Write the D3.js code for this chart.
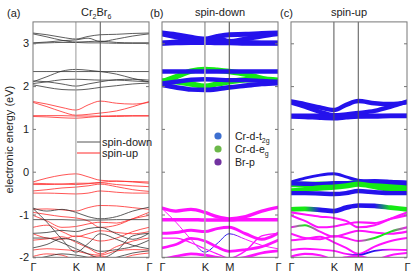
<!DOCTYPE html>
<html>
<head>
<meta charset="utf-8">
<script src="https://cdn.jsdelivr.net/npm/d3@7"></script>
<style>
body { margin: 0; background: #fff; }
svg { display: block; }
text { font-family: "Liberation Sans", Arial, sans-serif; fill: #222; }
</style>
</head>
<body>
<div id="chart"></div>
<script>
// k-path sample points (fraction of Γ-K-M-Γ path) and labels
const kPath = [0, 0.12, 0.25, 0.37, 0.475, 0.58, 0.72, 0.86, 1];
const kLabels = ["Γ", "K", "M", "Γ"];
const kLabelPos = [0, 0.37, 0.58, 1];
const eTicks = [-2, -1, 0, 1, 2, 3];

// spin-down bands (eV) at kPath points
const spinDown = [
  [3.24, 3.20, 3.14, 3.10, 3.16, 3.20, 3.21, 3.23, 3.24],
  [3.22, 3.15, 3.07, 3.03, 3.04, 3.05, 3.02, 3.01, 3.01],
  [3.01, 3.03, 3.06, 3.08, 3.12, 3.04, 3.10, 3.17, 3.22],
  [3.00, 3.01, 3.02, 3.02, 3.01, 3.01, 3.00, 3.00, 3.00],
  [2.10, 2.22, 2.35, 2.39, 2.37, 2.34, 2.28, 2.18, 2.10],
  [2.12, 2.10, 2.05, 2.00, 2.05, 2.10, 2.15, 2.16, 2.14],
  [2.34, 2.34, 2.34, 2.34, 2.34, 2.34, 2.34, 2.34, 2.34],
  [2.06, 2.10, 2.15, 2.16, 2.15, 2.14, 2.14, 2.12, 2.10],
  [2.03, 1.97, 1.92, 1.91, 1.93, 1.97, 2.01, 2.05, 2.07],
  [-0.85, -0.92, -0.88, -0.95, -1.05, -1.10, -1.05, -0.92, -0.83],
  [-0.86, -1.18, -1.58, -1.88, -1.68, -1.45, -1.58, -1.72, -1.80],
  [-1.12, -1.12, -1.12, -1.13, -1.13, -1.13, -1.12, -1.12, -1.12],
  [-1.44, -1.42, -1.37, -1.40, -1.33, -1.30, -1.45, -1.58, -1.44],
  [-1.78, -1.70, -1.56, -1.62, -1.76, -1.86, -1.82, -1.75, -1.60],
  [-1.55, -1.55, -1.66, -1.80, -1.92, -2.02, -1.85, -1.50, -1.44],
  [-2.05, -1.98, -1.92, -1.95, -2.00, -2.05, -2.00, -1.90, -1.85]
];

// spin-up bands (eV) at kPath points
const spinUp = [
  [1.64, 1.58, 1.50, 1.44, 1.56, 1.65, 1.60, 1.58, 1.62],
  [1.62, 1.52, 1.40, 1.32, 1.34, 1.37, 1.42, 1.52, 1.64],
  [1.31, 1.31, 1.31, 1.30, 1.30, 1.30, 1.31, 1.31, 1.31],
  [1.29, 1.28, 1.26, 1.25, 1.27, 1.29, 1.29, 1.30, 1.30],
  [-0.24, -0.15, -0.08, -0.05, -0.12, -0.20, -0.22, -0.23, -0.24],
  [-0.30, -0.30, -0.29, -0.30, -0.28, -0.26, -0.30, -0.33, -0.35],
  [-0.27, -0.28, -0.29, -0.27, -0.27, -0.25, -0.22, -0.24, -0.27],
  [-0.45, -0.42, -0.38, -0.36, -0.33, -0.29, -0.35, -0.42, -0.46],
  [-0.50, -0.50, -0.51, -0.52, -0.50, -0.45, -0.48, -0.50, -0.50],
  [-0.88, -0.87, -0.89, -0.92, -0.84, -0.79, -0.80, -0.84, -0.88],
  [-0.95, -1.00, -1.05, -1.08, -1.15, -1.30, -1.25, -1.10, -0.95],
  [-1.02, -1.15, -1.30, -1.28, -1.22, -1.18, -1.20, -1.10, -1.02],
  [-1.30, -1.25, -1.40, -1.52, -1.45, -1.38, -1.42, -1.45, -1.40],
  [-1.45, -1.55, -1.58, -1.50, -1.55, -1.62, -1.55, -1.40, -1.30],
  [-1.60, -1.57, -1.52, -1.65, -1.78, -1.92, -1.75, -1.62, -1.55],
  [-1.83, -1.80, -1.82, -1.85, -1.92, -1.95, -1.85, -1.82, -1.83],
  [-1.98, -1.92, -1.95, -2.05, -2.00, -1.97, -2.05, -1.95, -1.90]
];

// dominant orbital character at each k point: t = Cr-d-t2g, e = Cr-d-eg, p = Br-p
const downChar = [
  "ttttttttt", "ttttttttt", "ttttttttt", "ttttttttt",
  "eeeeeeeee", "eeeeeeeee", "ttttttttt", "ttttttttt", "ttttttttt",
  "ppppppppp", "ppptttppp", "ppppppppp", "ppppppppp", "ppppppppp", "ppppppppp", "ppppppppp"
];
const upChar = [
  "ttttttttt", "ttttttttt", "ttttttttt", "ttttttttt",
  "ttttttttt", "eeeeeeeee", "ttttttttt", "eeeeeeeee", "ttttttttt",
  "eetttttee", "ppppppppp", "ppppppppp", "peppppppp", "ppppppeep", "ppppppppp", "pppppttpp", "ppppppppp"
];

// projection weight (0..1) of each band
const downWeight = [0.9, 0.9, 0.9, 0.9, 1.0, 1.0, 0.8, 0.8, 0.85, 0.55, 0.08, 0.6, 0.5, 0.45, 0.15, 0.45];
const upWeight = [0.8, 0.8, 0.8, 0.8, 0.5, 1.0, 0.8, 1.0, 0.8, 0.85, 0.3, 0.3, 0.3, 0.3, 0.3, 0.25, 0.3];

const legendItems = [
  {c: "t", main: "Cr-d-t", sub: "2g", dot: "#3d6fd0"},
  {c: "e", main: "Cr-d-e", sub: "g", dot: "#6cb84a"},
  {c: "p", main: "Br-p", sub: "", dot: "#7232a0"}
];

const W = 416, H = 277;
const charColor = {t: "#2412ec", e: "#14ea14", p: "#ff12ff"};

const svg = d3.select("#chart").append("svg").attr("width", W).attr("height", H);
const defs = svg.append("defs");

const y = d3.scaleLinear().domain([-2, 3.5]).range([257.3, 21.9]);
const wScale = d3.scaleLinear().domain([0, 1]).range([0.6, 5.4]);

const panels = [
  {id: "a", left: 33, right: 149, kColor: "#999", mColor: "#555", labels: true},
  {id: "b", left: 162, right: 278, kColor: "#aaa", mColor: "#444", labels: false},
  {id: "c", left: 291, right: 407, kColor: "#555", mColor: "#555", labels: false}
];

function setupPanel(p) {
  const x = d3.scaleLinear().domain([0, 1]).range([p.left, p.right]);
  defs.append("clipPath").attr("id", "clip-" + p.id)
    .append("rect")
    .attr("x", p.left).attr("y", y(3.5))
    .attr("width", p.right - p.left).attr("height", y(-2) - y(3.5));
  const g = svg.append("g");
  const plot = g.append("g").attr("clip-path", "url(#clip-" + p.id + ")");
  return {x, g, plot};
}

function finishPanel(p, x, g) {
  // K and M lines
  g.append("line").attr("x1", x(kLabelPos[1])).attr("x2", x(kLabelPos[1]))
    .attr("y1", y(3.5)).attr("y2", y(-2))
    .attr("stroke", p.kColor).attr("stroke-width", p.id == "b" ? 1.6 : 1);
  g.append("line").attr("x1", x(kLabelPos[2])).attr("x2", x(kLabelPos[2]))
    .attr("y1", y(3.5)).attr("y2", y(-2))
    .attr("stroke", p.mColor).attr("stroke-width", 1);
  // frame
  g.append("rect").attr("x", p.left).attr("y", y(3.5))
    .attr("width", p.right - p.left).attr("height", y(-2) - y(3.5))
    .attr("fill", "none").attr("stroke", "#777").attr("stroke-width", 1);

  const left = d3.axisLeft(y).tickValues(eTicks).tickSize(-3).tickPadding(4)
    .tickFormat(d => p.labels ? String(d) : "");
  const la = g.append("g").attr("transform", "translate(" + p.left + ",0)").call(left);
  const ra = g.append("g").attr("transform", "translate(" + p.right + ",0)")
    .call(d3.axisRight(y).tickValues(eTicks).tickSize(-3).tickFormat(""));
  const bottom = d3.axisBottom(x).tickValues(kLabelPos)
    .tickFormat((d, i) => kLabels[i]).tickSize(0).tickPadding(6);
  const ba = g.append("g").attr("transform", "translate(0," + y(-2) + ")").call(bottom);
  [la, ra, ba].forEach(a => {
    a.select(".domain").remove();
    a.selectAll("line").attr("stroke", "#777");
    a.selectAll("text").attr("font-size", 11).attr("fill", "#222")
      .style("font-family", "'Liberation Sans', Arial, sans-serif");
  });
}

function bandLine(x) {
  return d3.line().x((d, i) => x(kPath[i])).y(d => y(d)).curve(d3.curveMonotoneX);
}

// panel (a): plain bands
(function() {
  const p = panels[0];
  const {x, g, plot} = setupPanel(p);
  const line = bandLine(x);
  plot.selectAll(".up").data(spinUp).enter().append("path")
    .attr("class", "up").attr("d", line)
    .attr("fill", "none").attr("stroke", "#ff2a2a").attr("stroke-width", 0.8);
  plot.selectAll(".down").data(spinDown).enter().append("path")
    .attr("class", "down").attr("d", line)
    .attr("fill", "none").attr("stroke", "#333").attr("stroke-width", 0.8);
  finishPanel(p, x, g);

  // legend
  const lg = g.append("g");
  [["spin-down", "#555", 142], ["spin-up", "#ff2a2a", 153]].forEach(l => {
    lg.append("line").attr("x1", 77).attr("x2", 100).attr("y1", l[2]).attr("y2", l[2])
      .attr("stroke", l[1]).attr("stroke-width", 1);
    lg.append("text").attr("x", 102).attr("y", l[2] + 4).attr("font-size", 11).text(l[0]);
  });
})();

// projected panels (b) spin-down, (c) spin-up
function fatBands(p, bands, chars, weights) {
  const {x, g, plot} = setupPanel(p);
  const line = bandLine(x);
  bands.forEach((b, i) => {
    const ch = chars[i];
    let stroke;
    if (ch.split("").every(c => c == ch[0])) {
      stroke = charColor[ch[0]];
    } else {
      const gid = "grad-" + p.id + "-" + i;
      const grad = defs.append("linearGradient").attr("id", gid)
        .attr("gradientUnits", "userSpaceOnUse")
        .attr("x1", p.left).attr("x2", p.right).attr("y1", 0).attr("y2", 0);
      kPath.forEach((k, j) => {
        grad.append("stop").attr("offset", k).attr("stop-color", charColor[ch[j]]);
      });
      stroke = "url(#" + gid + ")";
    }
    plot.append("path").datum(b).attr("d", line)
      .attr("fill", "none").attr("stroke", stroke)
      .attr("stroke-width", wScale(weights[i]))
      .attr("stroke-linecap", "round");
  });
  finishPanel(p, x, g);
  return g;
}

fatBands(panels[1], spinDown, downChar, downWeight);
fatBands(panels[2], spinUp, upChar, upWeight);

// legend in panel (b)
const leg = svg.append("g");
legendItems.forEach((d, i) => {
  const yy = 136 + i * 13;
  leg.append("circle").attr("cx", 218).attr("cy", yy).attr("r", 3.6).attr("fill", d.dot);
  const t = leg.append("text").attr("x", 235).attr("y", yy + 4).attr("font-size", 10.5);
  t.append("tspan").text(d.main);
  if (d.sub) t.append("tspan").attr("font-size", 7).attr("dy", 3).text(d.sub);
});

// titles
svg.append("text").attr("x", 7).attr("y", 17).attr("font-size", 11).text("(a)");
svg.append("text").attr("x", 150).attr("y", 17).attr("font-size", 11).text("(b)");
svg.append("text").attr("x", 280).attr("y", 17).attr("font-size", 11).text("(c)");
const tt = svg.append("text").attr("x", 81).attr("y", 16).attr("font-size", 11);
tt.append("tspan").text("Cr");
tt.append("tspan").attr("font-size", 7).attr("dy", 3).text("2");
tt.append("tspan").attr("dy", -3).text("Br");
tt.append("tspan").attr("font-size", 7).attr("dy", 3).text("6");
svg.append("text").attr("x", 220).attr("y", 16).attr("font-size", 11)
  .attr("text-anchor", "middle").text("spin-down");
svg.append("text").attr("x", 349).attr("y", 16).attr("font-size", 11)
  .attr("text-anchor", "middle").text("spin-up");

// y-axis title
svg.append("text")
  .attr("transform", "translate(13," + (y(-2) + y(3.5)) / 2 + ") rotate(-90)")
  .attr("text-anchor", "middle").attr("font-size", 11)
  .text("electronic energy (eV)");
</script>
</body>
</html>
